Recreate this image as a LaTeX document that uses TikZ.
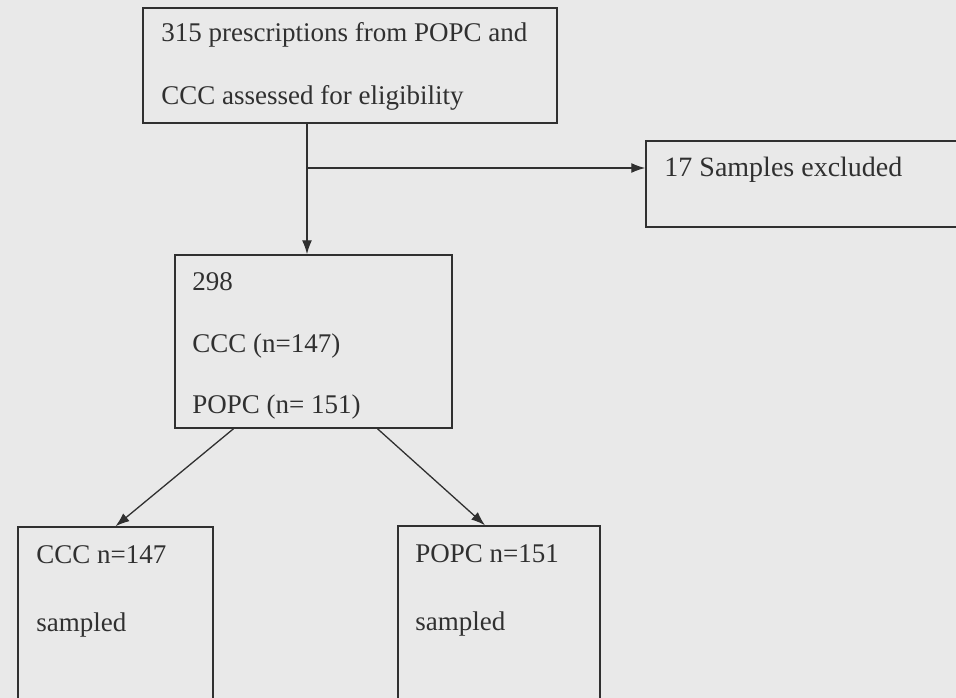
\documentclass[tikz,border=0pt]{standalone}
\usepackage{fontspec}
\setmainfont{Liberation Serif}
\usetikzlibrary{arrows.meta}

\definecolor{scan}{RGB}{233,233,233}
\definecolor{ink}{RGB}{48,48,48}

\begin{document}
\begin{tikzpicture}[x=1pt, y=-1pt,
	box/.style={draw=ink, line width=1.5pt, inner sep=0pt},
	txt/.style={text=ink, inner sep=0pt, align=left, anchor=north west},
	link/.style={-{Latex[length=14pt, width=10pt]}, draw=ink, line width=1.3pt}]
	\useasboundingbox (0, 0) rectangle (956, 698);
	\fill[scan] (0, 0) rectangle (956, 698);
	\clip (0, 0) rectangle (956, 698);

	\node[box, minimum width=414pt, minimum height=115pt] (top) at (350, 65.5) {};
	\node[box, minimum width=334pt, minimum height=86pt] (excl) at (813, 184) {};
	\node[box, minimum width=277pt, minimum height=173pt] (mid) at (313.5, 341.5) {};
	\node[box, minimum width=195pt, minimum height=203pt] (ccc) at (115.5, 628.5) {};
	\node[box, minimum width=202pt, minimum height=204pt] (popc) at (499, 628) {};

	\node[txt, font=\fontsize{27}{63}\selectfont] (topT) at ([shift={(19, 15.5)}]top.north west)
		{315 prescriptions from POPC and\\CCC assessed for eligibility};
	\node[txt, font=\fontsize{28}{62}\selectfont] (exclT) at ([shift={(19, 17)}]excl.north west)
		{17 Samples excluded};
	\node[txt, font=\fontsize{27}{61.5}\selectfont] (midT) at ([shift={(18, 18.5)}]mid.north west)
		{298\\CCC (n=147)\\POPC (n= 151)};
	\node[txt, font=\fontsize{27}{68}\selectfont] (cccT) at ([shift={(19, 19.5)}]ccc.north west)
		{CCC n=147\\sampled};
	\node[txt, font=\fontsize{27}{68}\selectfont] (popcT) at ([shift={(18, 19)}]popc.north west)
		{POPC n=151\\sampled};

	\coordinate (split) at (307, 168);

	\draw[link] (top.south -| split) -- (mid.north -| split);
	\draw[link] (split) -- (excl.west |- split);
	\draw[link] ([xshift=-80pt]mid.south) -- (ccc.north);
	\draw[link] ([xshift=64pt]mid.south) -- ([xshift=-14pt]popc.north);
\end{tikzpicture}
\end{document}
